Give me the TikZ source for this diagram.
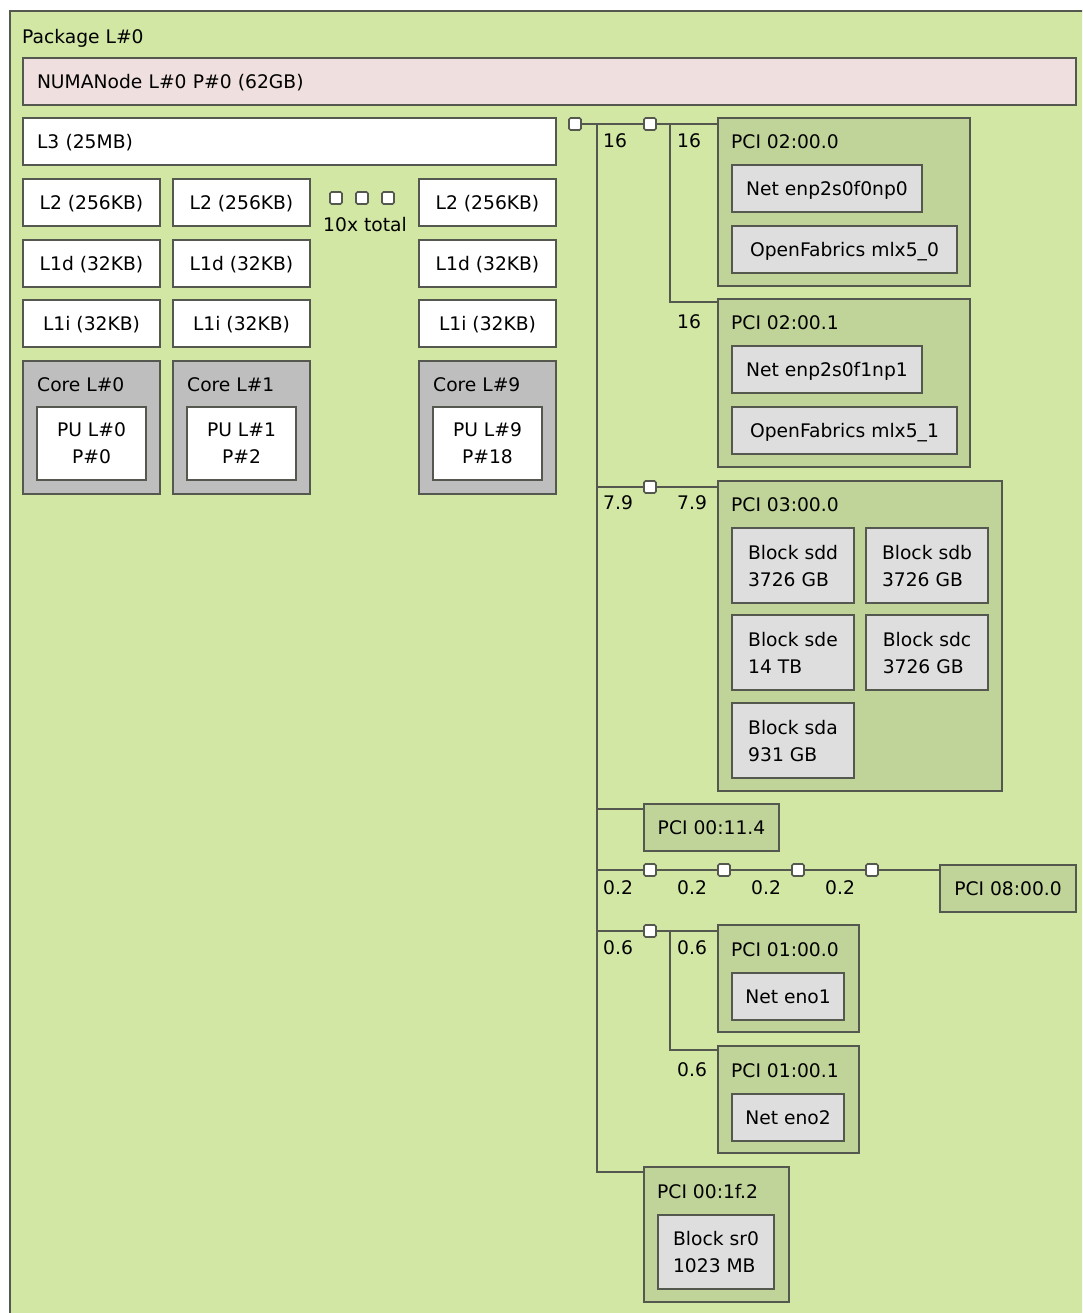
\documentclass[tikz,border=0pt]{standalone}
\usepackage{fontspec}
\setmainfont{DejaVu Sans}
\usepackage{tikz}
\usetikzlibrary{calc,positioning}

\definecolor{pkgcol}{RGB}{210,231,164}
\definecolor{numacol}{RGB}{239,223,222}
\definecolor{corecol}{RGB}{190,190,190}
\definecolor{pcicol}{RGB}{192,211,152}
\definecolor{devcol}{RGB}{222,222,222}
\definecolor{edgecol}{RGB}{84,88,78}

\tikzset{
  obj/.style={draw=edgecol, line width=2pt, rectangle, inner sep=0pt, anchor=north west, minimum height=47pt, text depth=0pt},
  cache/.style={obj, fill=white, minimum width=137pt},
  corebox/.style={obj, fill=corecol, minimum width=137pt, minimum height=133pt},
  pubox/.style={obj, fill=white, minimum width=109pt, minimum height=73pt, align=center, text depth=-6pt},
  pcidev/.style={obj, fill=pcicol},
  osdev/.style={obj, fill=devcol},
  blockdev/.style={osdev, minimum width=122pt, minimum height=75pt, align=left},
  hwtitle/.style={anchor=west, inner sep=0pt, text depth=0pt},
  bridge/.style={draw=edgecol, line width=1.6pt, fill=white, rounded corners=1.5pt, minimum size=12pt, inner sep=0pt},
  hwlink/.style={draw=edgecol, line width=2pt},
  speed/.style={anchor=west, inner sep=0pt, text depth=0pt},
}

\begin{document}
\begin{tikzpicture}[x=1pt, y=-1pt, font=\fontsize{18.7pt}{27pt}\selectfont]
  \useasboundingbox (0,0) rectangle (1082,1313);
  \clip (0,0) rectangle (1082,1313);

  % package and memory
  \node[obj, fill=pkgcol, minimum width=1100pt, minimum height=1330pt] (pkg) at (9,10) {};
  \node[hwtitle] (pkgt) at (22,36) {Package L\#0};
  \node[obj, fill=numacol, minimum width=1053pt, text width=1025pt, inner xsep=14pt, align=left] (numa) at (22,57) {NUMANode L\#0 P\#0 (62GB)};
  \node[obj, fill=white, minimum width=533pt, text width=505pt, inner xsep=14pt, align=left] (l3) at (22,117) {L3 (25MB)};

  % caches, cores and PUs
  \foreach \c/\x/\p in {0/22/0, 1/172/2, 9/418/18} {
    \node[cache] (l2\c) at (\x,178) {L2 (256KB)};
    \node[cache] (l1d\c) at (\x,239) {L1d (32KB)};
    \node[cache] (l1i\c) at (\x,299) {L1i (32KB)};
    \node[corebox] (core\c) at (\x,360) {};
    \node[hwtitle] (coret\c) at (\x+15,385) {Core L\#\c};
    \node[pubox] (pu\c) at (\x+14,406) {PU L\#\c\\P\#\p};
  }
  \foreach \k in {0,1,2}
    \node[bridge] (more\k) at (336+26*\k,198) {};
  \node[inner sep=0pt, text depth=0pt] (moret) at (365,224) {10x total};

  % bridges
  \node[bridge] (hb) at (575,124) {};
  \node[bridge] (br020) at (650,124) {};
  \node[bridge] (br030) at (650,487) {};
  \foreach \k in {1,...,4}
    \node[bridge] (bre\k) at (576+74*\k,870) {};
  \node[bridge] (br010) at (650,931) {};

  % PCI 02:00.x
  \node[pcidev, minimum width=252pt, minimum height=168pt] (pci020) at (717,117) {};
  \node[hwtitle] (pci020t) at (731,142) {PCI 02:00.0};
  \node[osdev, minimum width=190pt] (net0) at (731,164) {Net enp2s0f0np0};
  \node[osdev, minimum width=225pt] (ofa0) at (731,225) {OpenFabrics mlx5\_0};
  \node[pcidev, minimum width=252pt, minimum height=168pt] (pci021) at (717,298) {};
  \node[hwtitle] (pci021t) at (731,323) {PCI 02:00.1};
  \node[osdev, minimum width=190pt] (net1) at (731,345) {Net enp2s0f1np1};
  \node[osdev, minimum width=225pt] (ofa1) at (731,406) {OpenFabrics mlx5\_1};

  % PCI 03:00.0 with disks
  \node[pcidev, minimum width=284pt, minimum height=310pt] (pci030) at (717,480) {};
  \node[hwtitle] (pci030t) at (731,505) {PCI 03:00.0};
  \node[blockdev] (sdd) at (731,527) {Block sdd\\3726 GB};
  \node[blockdev] (sdb) at (865,527) {Block sdb\\3726 GB};
  \node[blockdev] (sde) at (731,614) {Block sde\\14 TB};
  \node[blockdev] (sdc) at (865,614) {Block sdc\\3726 GB};
  \node[blockdev] (sda) at (731,702) {Block sda\\931 GB};

  % other devices
  \node[pcidev, minimum width=135pt] (pci114) at (643,803) {PCI 00:11.4};
  \node[pcidev, minimum width=136pt] (pci080) at (939,864) {PCI 08:00.0};
  \node[pcidev, minimum width=141pt, minimum height=107pt] (pci010) at (717,924) {};
  \node[hwtitle] (pci010t) at (731,950) {PCI 01:00.0};
  \node[osdev, minimum width=112pt] (eno1) at (731,972) {Net eno1};
  \node[pcidev, minimum width=141pt, minimum height=107pt] (pci011) at (717,1045) {};
  \node[hwtitle] (pci011t) at (731,1071) {PCI 01:00.1};
  \node[osdev, minimum width=112pt] (eno2) at (731,1093) {Net eno2};
  \node[pcidev, minimum width=145pt, minimum height=135pt] (pci1f2) at (643,1166) {};
  \node[hwtitle] (pci1f2t) at (657,1191) {PCI 00:1f.2};
  \node[blockdev, minimum width=116pt, minimum height=74pt] (sr0) at (657,1214) {Block sr0\\1023 MB};

  % links
  \coordinate (bus) at (597,124);
  \coordinate (busend) at (597,1172);
  \coordinate (sub1) at (670,124);
  \coordinate (j021) at (670,302);
  \coordinate (j114) at (597,809);
  \coordinate (j011) at (670,1050);
  \draw[hwlink] (hb) -- (br020);
  \draw[hwlink] (br020) -- (br020 -| pci020.west);
  \draw[hwlink] (sub1) -- (j021) -- (j021 -| pci021.west);
  \draw[hwlink] (bus) -- (busend) -- (busend -| pci1f2.west);
  \draw[hwlink] (bus |- br030) -- (br030);
  \draw[hwlink] (br030) -- (br030 -| pci030.west);
  \draw[hwlink] (j114) -- (j114 -| pci114.west);
  \draw[hwlink] (bus |- bre1) -- (bre1);
  \foreach \a/\b in {1/2,2/3,3/4}
    \draw[hwlink] (bre\a) -- (bre\b);
  \draw[hwlink] (bre4) -- (bre4 -| pci080.west);
  \draw[hwlink] (bus |- br010) -- (br010);
  \draw[hwlink] (br010) -- (br010 -| pci010.west);
  \draw[hwlink] (br010 -| j011) -- (j011) -- (j011 -| pci011.west);

  % link speeds
  \node[speed] (sp1) at (603,141) {16};
  \node[speed] (sp2) at (677,141) {16};
  \node[speed] (sp3) at (677,322) {16};
  \node[speed] (sp4) at (603,503) {7.9};
  \node[speed] (sp5) at (677,503) {7.9};
  \foreach \k in {0,...,3}
    \node[speed] (spe\k) at (603+74*\k,888) {0.2};
  \node[speed] (sp6) at (603,948) {0.6};
  \node[speed] (sp7) at (677,948) {0.6};
  \node[speed] (sp8) at (677,1070) {0.6};
\end{tikzpicture}
\end{document}
